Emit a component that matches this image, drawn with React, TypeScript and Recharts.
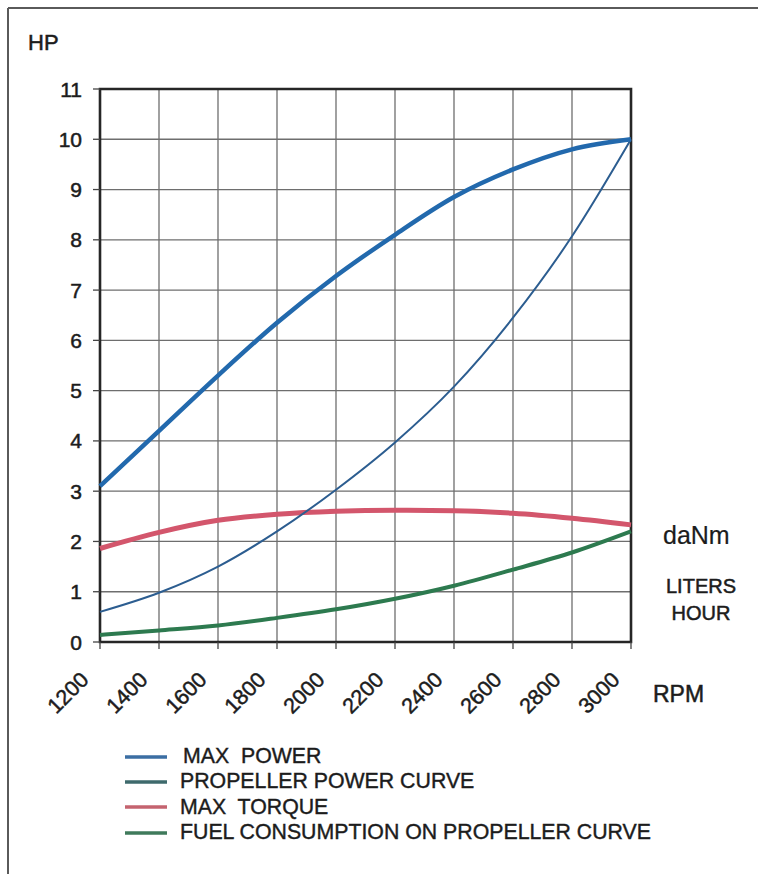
import React from 'react';
import { LineChart, Line, XAxis, YAxis, CartesianGrid, ReferenceArea, Legend } from 'recharts';

// ---- data ----
const rpm = [1200, 1400, 1600, 1800, 2000, 2200, 2400, 2600, 2800, 3000];
const maxPower = [3.1, 4.2, 5.3, 6.35, 7.28, 8.1, 8.85, 9.4, 9.8, 10.0];
const propellerPower = [0.6, 0.98, 1.5, 2.2, 3.03, 3.97, 5.08, 6.45, 8.07, 10.0];
const maxTorque = [1.86, 2.18, 2.42, 2.54, 2.6, 2.62, 2.61, 2.56, 2.46, 2.33];
const fuelConsumption = [0.14, 0.23, 0.33, 0.48, 0.65, 0.86, 1.12, 1.44, 1.78, 2.2];

const xTicks = [1200, 1400, 1600, 1800, 2000, 2200, 2400, 2600, 2800, 3000];
const yTicks = [0, 1, 2, 3, 4, 5, 6, 7, 8, 9, 10, 11];

const seriesNames = ['MAX  POWER', 'PROPELLER POWER CURVE', 'MAX  TORQUE', 'FUEL CONSUMPTION ON PROPELLER CURVE'];
const seriesColors = ['#2269ad', '#2c5d90', '#d3566c', '#2d7a4f'];
const legendColors = ['#3b6ea3', '#3e6a6c', '#c4636f', '#3f7a5b'];

const data = rpm.map((r, i) => ({
  rpm: r,
  maxPower: maxPower[i],
  propellerPower: propellerPower[i],
  maxTorque: maxTorque[i],
  fuel: fuelConsumption[i],
}));

const FONT = '"Liberation Sans", Arial, Helvetica, sans-serif';
const TEXT = '#1c1c1c';
const TS = 0.5; // slight stroke to mimic the heavier scanned print

const YTick = (props: any) => {
  const { x, y, payload } = props;
  return (
    <text x={x} y={y} dy="0.36em" textAnchor="end" fontSize={21} fontFamily={FONT} fill={TEXT} stroke={TEXT} strokeWidth={TS}>
      {payload.value}
    </text>
  );
};

const XTick = (props: any) => {
  const { x, y, payload } = props;
  const ax = x - 10;
  const ay = y + 30;
  return (
    <text
      x={ax}
      y={ay}
      textAnchor="end"
      fontSize={21.5}
      fontFamily={FONT}
      fill={TEXT}
      stroke={TEXT}
      strokeWidth={TS}
      transform={`rotate(-45, ${ax}, ${ay})`}
    >
      {payload.value}
    </text>
  );
};

const LegendContent = () => (
  <div style={{ fontFamily: FONT, color: TEXT }}>
    {seriesNames.map((n, i) => (
      <div key={n} style={{ display: 'flex', alignItems: 'center', height: 25.3, lineHeight: '25px' }}>
        <svg width={42} height={6} style={{ display: 'block' }}>
          <line x1={0} y1={3} x2={42} y2={3} stroke={legendColors[i]} strokeWidth={3.4} />
        </svg>
        <span
          style={{
            marginLeft: i === 0 ? 16 : 13,
            fontSize: 21.3,
            whiteSpace: 'pre',
            WebkitTextStroke: '0.4px #1c1c1c',
          }}
        >
          {n}
        </span>
      </div>
    ))}
  </div>
);

export default function App() {
  return (
    <div style={{ position: 'absolute', left: 0, top: 0, width: 758, height: 874, background: '#fff', overflow: 'hidden' }}>
      <LineChart
        width={758}
        height={874}
        data={data}
        margin={{ top: 89, right: 127, left: 0, bottom: 172 }}
      >
        <CartesianGrid stroke="#6e6e6e" strokeWidth={1.3} vertical horizontal />
        <XAxis
          dataKey="rpm"
          type="number"
          domain={[1200, 3000]}
          ticks={xTicks}
          height={60}
          axisLine={false}
          tickLine={{ stroke: '#444', strokeWidth: 1.3 }}
          tickSize={7}
          tickMargin={2}
          tick={<XTick />}
          interval={0}
        />
        <YAxis
          type="number"
          domain={[0, 11]}
          ticks={yTicks}
          width={100}
          axisLine={false}
          tickLine={{ stroke: '#444', strokeWidth: 1.3 }}
          tickSize={7}
          tickMargin={11}
          tick={<YTick />}
          interval={0}
        />
        <ReferenceArea x1={1200} x2={3000} y1={0} y2={11} fill="none" fillOpacity={0} stroke="#262626" strokeWidth={2.6} />
        <Line type="monotone" dataKey="maxTorque" name={seriesNames[2]} stroke={seriesColors[2]} strokeWidth={5} dot={false} isAnimationActive={false} />
        <Line type="monotone" dataKey="fuel" name={seriesNames[3]} stroke={seriesColors[3]} strokeWidth={4} dot={false} isAnimationActive={false} />
        <Line type="monotone" dataKey="propellerPower" name={seriesNames[1]} stroke={seriesColors[1]} strokeWidth={2} dot={false} isAnimationActive={false} />
        <Line type="monotone" dataKey="maxPower" name={seriesNames[0]} stroke={seriesColors[0]} strokeWidth={4.5} dot={false} isAnimationActive={false} />
        <Legend
          layout="horizontal"
          verticalAlign="middle"
          align="center"
          content={<LegendContent />}
          wrapperStyle={{ left: 125, top: 744, width: 600, height: 104 }}
        />
      </LineChart>
      <svg width={758} height={874} style={{ position: 'absolute', left: 0, top: 0, pointerEvents: 'none' }}>
        <line x1={8} y1={8} x2={758} y2={8} stroke="#5a5a5a" strokeWidth={2} />
        <line x1={8} y1={8} x2={8} y2={874} stroke="#5a5a5a" strokeWidth={2} />
        <text x={28} y={50} fontSize={22} fontFamily={FONT} fill={TEXT} stroke={TEXT} strokeWidth={TS}>HP</text>
        <text x={653} y={702} fontSize={23} fontFamily={FONT} fill={TEXT} stroke={TEXT} strokeWidth={TS}>RPM</text>
        <text x={663} y={544} fontSize={25} fontFamily={FONT} fill={TEXT} strokeWidth={0.2} stroke={TEXT}>daNm</text>
        <text x={701} y={593} fontSize={20} fontFamily={FONT} fill={TEXT} textAnchor="middle" stroke={TEXT} strokeWidth={TS}>LITERS</text>
        <text x={701} y={620} fontSize={20} fontFamily={FONT} fill={TEXT} textAnchor="middle" stroke={TEXT} strokeWidth={TS}>HOUR</text>
      </svg>
    </div>
  );
}
